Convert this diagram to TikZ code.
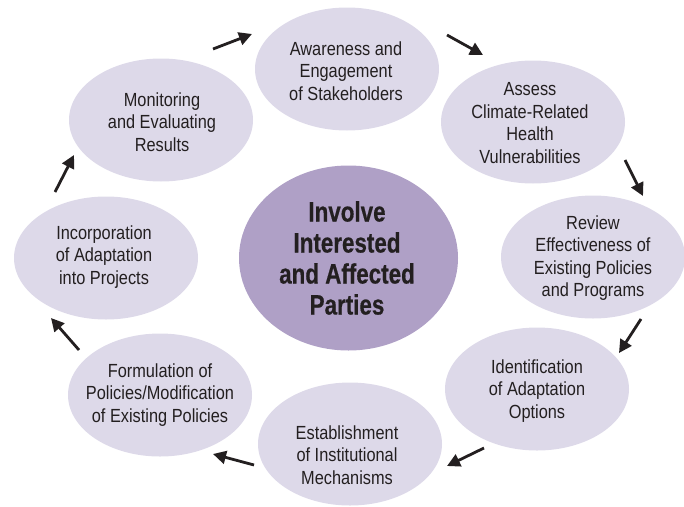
\documentclass[tikz,border=0pt]{standalone}
\usepackage{fontspec}
\setmainfont{Liberation Sans}[FakeStretch=0.86]
\newfontfamily\cfont{Liberation Sans}[FakeStretch=0.8,FakeBold=0.5]
\usetikzlibrary{shapes.geometric,arrows.meta}
\definecolor{bubfill}{RGB}{221,217,233}
\definecolor{ctrfill}{RGB}{175,160,198}
\definecolor{txtcol}{RGB}{35,31,32}
\tikzset{
  bub/.style={ellipse,fill=bubfill,draw=none,inner sep=0pt,minimum width=184pt,minimum height=123pt},
  txt/.style={align=center,text=txtcol,inner sep=0pt,font=\fontsize{19}{22.5}\selectfont},
  ctr/.style={ellipse,fill=ctrfill,draw=none,inner sep=0pt,minimum width=219pt,minimum height=185pt},
  ctrtxt/.style={align=center,text=txtcol,inner sep=0pt,font=\cfont\bfseries\fontsize{28}{31}\selectfont},
  flow/.style={line width=2.8pt,draw=txtcol,-{Triangle[length=13pt,width=13pt]}}
}
\begin{document}
\begin{tikzpicture}[x=1pt,y=-1pt]
\useasboundingbox (0,0) rectangle (684,506);
% bubbles
\node[bub] (aw)  at (347,69)  {};
\node[bub] (as)  at (533,122) {};
\node[bub] (rev) at (593,257) {};
\node[bub] (id)  at (537,389) {};
\node[bub] (est) at (350,444) {};
\node[bub] (form) at (160,395) {};
\node[bub] (inc) at (106,258) {};
\node[bub] (mon) at (161,120) {};
\node[ctr] (ctr) at (348.5,258) {};
% texts
\node[txt] (awt) at (346,71) {Awareness and\\Engagement\\of Stakeholders};
\node[txt] (ast) at (530,123) {Assess\\Climate-Related\\Health\\Vulnerabilities};
\node[txt] (revt) at (593,258) {Review\\Effectiveness of\\Existing Policies\\and Programs};
\node[txt] (idt) at (537,391) {Identification\\of Adaptation\\Options};
\node[txt] (estt) at (347,455) {Establishment\\of Institutional\\Mechanisms};
\node[txt] (formt) at (160,395) {Formulation of\\Policies/Modification\\of Existing Policies};
\node[txt] (inct) at (104,257) {Incorporation\\of Adaptation\\into Projects};
\node[txt] (mont) at (162,122) {Monitoring\\and Evaluating\\Results};
\node[ctrtxt] (ctrt) at (347,258) {Involve\\Interested\\and Affected\\Parties};
% arrow end points
\coordinate (a1s) at (213,49);  \coordinate (a1e) at (252,34);
\coordinate (a2s) at (447,35);  \coordinate (a2e) at (483,55);
\coordinate (a3s) at (625,160); \coordinate (a3e) at (643,196);
\coordinate (a4s) at (641,319); \coordinate (a4e) at (619,353);
\coordinate (a5s) at (484,448); \coordinate (a5e) at (447,466);
\coordinate (a6s) at (254,465); \coordinate (a6e) at (213,454);
\coordinate (a7s) at (79,350);  \coordinate (a7e) at (51,318);
\coordinate (a8s) at (55,192);  \coordinate (a8e) at (74,155);
\draw[flow] (a1s) -- (a1e);
\draw[flow] (a2s) -- (a2e);
\draw[flow] (a3s) -- (a3e);
\draw[flow] (a4s) -- (a4e);
\draw[flow] (a5s) -- (a5e);
\draw[flow] (a6s) -- (a6e);
\draw[flow] (a7s) -- (a7e);
\draw[flow] (a8s) -- (a8e);
\end{tikzpicture}
\end{document}
